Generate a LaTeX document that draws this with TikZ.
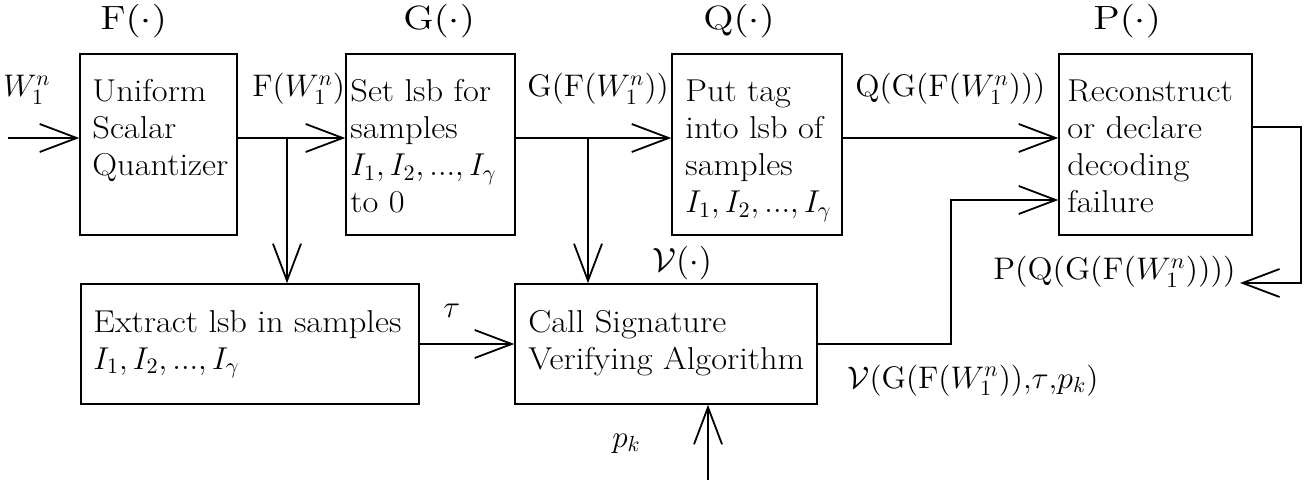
\RequirePackage{fix-cm}
\documentclass[tikz,border=0pt]{standalone}
\usepackage{graphicx}
\usetikzlibrary{arrows.meta,fit}
\newcommand\wt[1]{\scalebox{1.09}[1]{#1}}
\newcommand\wb[1]{\scalebox{1.18}[1]{#1}}
\newcommand\wm[1]{\scalebox{1.02}[1]{#1}}
\begin{document}
\begin{tikzpicture}[x=0.5pt,y=-0.5pt,
  box/.style={draw,line width=0.75pt,rectangle,inner sep=0pt},
  txt/.style={inner sep=0pt,anchor=base west,font=\fontsize{15.8}{18.5}\selectfont},
  lbl/.style={inner sep=0pt,anchor=base west,font=\fontsize{15.6}{18.5}\selectfont},
  big/.style={inner sep=0pt,anchor=base west,font=\fontsize{16.8}{20}\selectfont},
  conn/.style={line width=0.75pt},
  arr/.style={conn,-{Straight Barb[length=18.5pt,width=14pt,line width=0.9pt]}}]
\useasboundingbox (0,0) rectangle (1315,480);
% boxes
\node[box,fit={(80,54)(237,235)}] (F) {};
\node[box,fit={(346,54)(515,235)}] (G) {};
\node[box,fit={(672,54)(842,235)}] (Q) {};
\node[box,fit={(1059,54)(1252,235)}] (P) {};
\node[box,fit={(81,284)(419,404)}] (E) {};
\node[box,fit={(515,284)(817,404)}] (V) {};
% box texts
\node[txt] (tF) at (92,102) {\begin{tabular}[t]{@{}l@{}}\wt{Uniform}\\\wt{Scalar}\\\wt{Quantizer}\end{tabular}};
\node[txt] (tG) at (350,102) {\begin{tabular}[t]{@{}l@{}}\wt{Set lsb for}\\\wt{samples}\\$I_1,I_2,...,I_\gamma$\\\wt{to 0}\end{tabular}};
\node[txt] (tQ) at (685,102) {\begin{tabular}[t]{@{}l@{}}\wt{Put tag}\\\wt{into lsb of}\\\wt{samples}\\$I_1,I_2,...,I_\gamma$\end{tabular}};
\node[txt] (tP) at (1067,102) {\begin{tabular}[t]{@{}l@{}}\wt{Reconstruct}\\\wt{or declare}\\\wt{decoding}\\\wt{failure}\end{tabular}};
\node[txt] (tE) at (93,332) {\begin{tabular}[t]{@{}l@{}}\wt{Extract lsb in samples}\\$I_1,I_2,...,I_\gamma$\end{tabular}};
\node[txt] (tV) at (528,332) {\begin{tabular}[t]{@{}l@{}}\wt{Call Signature}\\\wt{Verifying Algorithm}\end{tabular}};
% function labels
\node[big] (lF) at (100,30) {\wb{$\mathrm{F}(\cdot)$}};
\node[big] (lG) at (403,30) {\wb{$\mathrm{G}(\cdot)$}};
\node[big] (lQ) at (703,30) {\wb{$\mathrm{Q}(\cdot)$}};
\node[big] (lP) at (1093,30) {\wb{$\mathrm{P}(\cdot)$}};
\node[big] (lV) at (652,272) {\wm{$\mathcal{V}(\cdot)$}};
% signal labels
\node[lbl] (sW) at (3,97) {$W_1^n$};
\node[lbl] (sF) at (252,97) {\wm{$\mathrm{F}(W_1^n)$}};
\node[lbl] (sG) at (527,97) {\wm{$\mathrm{G}(\mathrm{F}(W_1^n))$}};
\node[lbl] (sQ) at (855,97) {\wm{$\mathrm{Q}(\mathrm{G}(\mathrm{F}(W_1^n)))$}};
\node[lbl] (sP) at (993,280) {\scalebox{1.05}[1]{$\mathrm{P}(\mathrm{Q}(\mathrm{G}(\mathrm{F}(W_1^n))))$}};
\node[lbl] (sT) at (443,318) {$\tau$};
\node[lbl] (sV) at (847,388) {\wm{$\mathcal{V}(\mathrm{G}(\mathrm{F}(W_1^n)){,}\tau{,}p_k)$}};
\node[lbl] (sK) at (612,447) {$p_k$};
% coordinates
\coordinate (in) at (8,138);
\coordinate (bF) at (287,138);
\coordinate (bG) at (588,138);
\coordinate (py) at (951,200);
\coordinate (po) at (1301,127);
\coordinate (pr) at (1301,283);
\coordinate (pe) at (1240,283);
\coordinate (pk) at (708,480);
% connectors
\draw[arr] (in) -- (in -| F.west);
\draw[arr] (F.east |- in) -- (G.west |- in);
\draw[arr] (bF) -- (bF |- E.north);
\draw[arr] (G.east |- in) -- (Q.west |- in);
\draw[arr] (bG) -- (bG |- V.north);
\draw[arr] (Q.east |- in) -- (P.west |- in);
\draw[arr] (E.east) -- (V.west);
\draw[arr] (V.east) -| (py) -- (py -| P.west);
\draw[arr] (P.east |- po) -| (pr) -- (pe);
\draw[arr] (pk) -- (pk |- V.south);
\end{tikzpicture}
\end{document}
